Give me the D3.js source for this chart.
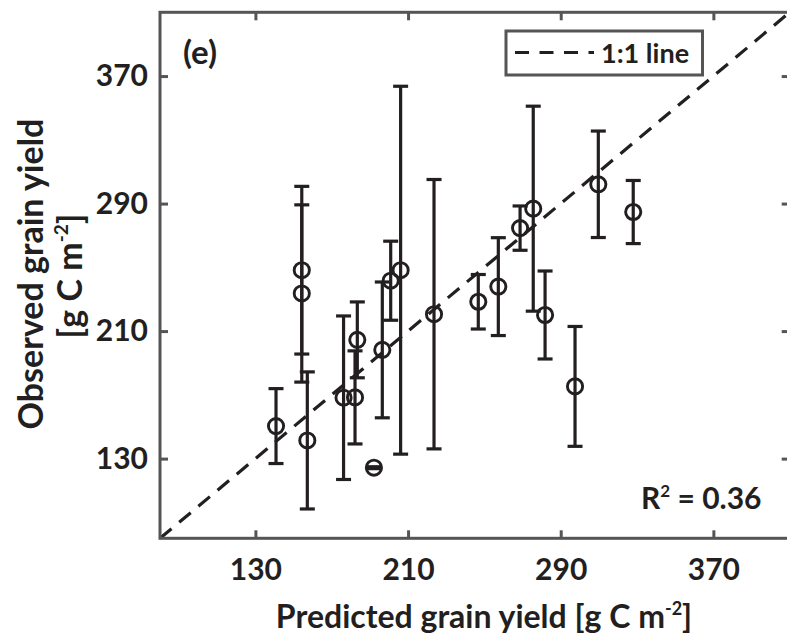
<!DOCTYPE html>
<html>
<head>
<meta charset="utf-8">
<script src="https://cdn.jsdelivr.net/npm/d3@7"></script>
<style>
  html, body { margin: 0; padding: 0; background: #fff; }
  svg { display: block; }
  text { font-family: Lato, "Open Sans", sans-serif; font-weight: bold; fill: #231f20; }
</style>
</head>
<body>
<svg id="chart" width="787" height="640"></svg>
<script>
// Predicted (x) and observed (y) grain yield, with half-width of the observed error bar
const predicted = [140.8, 154.3, 154.3, 157.2, 176.2, 182.2, 183.4, 196.5, 200.9, 206.1, 192.1, 223.6, 246.8, 257.3, 268.7, 275.6, 281.8, 297.5, 309.7, 328.0];
const observed  = [150.4, 248.2, 233.6, 141.4, 168.2, 168.4, 204.5, 198.2, 241.6, 248.2, 124.3, 220.6, 228.4, 237.9, 274.6, 286.8, 220.1, 175.3, 302.1, 284.7];
const errHalf   = [23.5, 52.6, 55.6, 43.0, 51.3, 29.2, 23.8, 42.6, 24.8, 115.4, 0.6, 84.5, 17.1, 30.7, 13.9, 64.3, 27.6, 37.6, 33.4, 19.8];
const xTicks = [130, 210, 290, 370];
const yTicks = [130, 210, 290, 370];
const axisDomain = [80, 410];
const r2Text = "0.36";

const svg = d3.select("#chart");
const L = 160, R = 789.7, T = 12.3, B = 538.3;
const x = d3.scaleLinear().domain(axisDomain).range([L, R]);
const y = d3.scaleLinear().domain(axisDomain).range([B, T]);
const ink = "#231f20", axisCol = "#555555";

// 1:1 line
svg.append("line")
  .attr("x1", x(axisDomain[0])).attr("y1", y(axisDomain[0]))
  .attr("x2", x(axisDomain[1])).attr("y2", y(axisDomain[1]))
  .attr("stroke", ink).attr("stroke-width", 3.2)
  .attr("stroke-dasharray", "15,10");

// Error bars
const data = predicted.map((p, i) => ({ x: p, y: observed[i], e: errHalf[i] }));
const cap = 7.5;
const g = svg.append("g");
data.forEach(d => {
  const cx = x(d.x), yt = y(d.y + d.e), yb = y(d.y - d.e);
  g.append("line").attr("x1", cx).attr("x2", cx).attr("y1", yt).attr("y2", yb)
    .attr("stroke", ink).attr("stroke-width", 3.2);
  [yt, yb].forEach(yy => g.append("line")
    .attr("x1", cx - cap).attr("x2", cx + cap).attr("y1", yy).attr("y2", yy)
    .attr("stroke", ink).attr("stroke-width", 3.2));
  g.append("circle").attr("cx", cx).attr("cy", y(d.y)).attr("r", 7.6)
    .attr("fill", "none").attr("stroke", ink).attr("stroke-width", 2.9);
});

// Axes
const fs = 30;
const xAxis = svg.append("g").attr("transform", `translate(0,${B})`)
  .call(d3.axisBottom(x).tickValues(xTicks).tickSizeInner(-8).tickSizeOuter(0).tickPadding(20));
const yAxis = svg.append("g").attr("transform", `translate(${L},0)`)
  .call(d3.axisLeft(y).tickValues(yTicks).tickSizeInner(-8).tickSizeOuter(0).tickPadding(12));
const xTop = svg.append("g").attr("transform", `translate(0,${T})`)
  .call(d3.axisTop(x).tickValues(xTicks).tickSizeInner(-8).tickSizeOuter(0).tickFormat(""));
const yRight = svg.append("g").attr("transform", `translate(${R},0)`)
  .call(d3.axisRight(y).tickValues(yTicks).tickSizeInner(-8).tickSizeOuter(0).tickFormat(""));
[xAxis, yAxis, xTop, yRight].forEach(a => {
  a.select(".domain").remove();
  a.selectAll(".tick line").attr("stroke", axisCol).attr("stroke-width", 3);
  a.selectAll(".tick text").attr("font-size", fs).attr("font-family", "Lato, sans-serif")
    .attr("font-weight", "bold").attr("fill", ink);
});

// Box
svg.append("rect").attr("x", L).attr("y", T).attr("width", R - L).attr("height", B - T)
  .attr("fill", "none").attr("stroke", axisCol).attr("stroke-width", 3);

// Panel label
svg.append("text").attr("x", 183).attr("y", 64).attr("font-size", 33).text("(e)");

// Legend
const lg = svg.append("g");
lg.append("rect").attr("x", 506).attr("y", 31).attr("width", 196.5).attr("height", 44)
  .attr("fill", "#fff").attr("stroke", axisCol).attr("stroke-width", 3);
lg.append("line").attr("x1", 515).attr("x2", 594).attr("y1", 52.5).attr("y2", 52.5)
  .attr("stroke", ink).attr("stroke-width", 3.2).attr("stroke-dasharray", "14,10.5");
lg.append("text").attr("x", 601).attr("y", 63).attr("font-size", 27).text("1:1 line");

// R^2
const r2 = svg.append("text").attr("x", 641).attr("y", 509).attr("font-size", 30);
r2.append("tspan").text("R");
r2.append("tspan").attr("font-size", 17).attr("dy", -12).text("2");
r2.append("tspan").attr("dy", 12).text(" = " + r2Text);

// X title
const xt = svg.append("text").attr("x", 484).attr("y", 628).attr("text-anchor", "middle").attr("font-size", 32);
xt.append("tspan").text("Predicted grain yield [g C m");
xt.append("tspan").attr("font-size", 18).attr("dy", -13).text("-2");
xt.append("tspan").attr("dy", 13).text("]");

// Y title
const yt1 = svg.append("text").attr("transform", "translate(43,274) rotate(-90)")
  .attr("text-anchor", "middle").attr("font-size", 34).text("Observed grain yield");
const yt2 = svg.append("text").attr("transform", "translate(82,276) rotate(-90)")
  .attr("text-anchor", "middle").attr("font-size", 34);
yt2.append("tspan").text("[g C m");
yt2.append("tspan").attr("font-size", 19).attr("dy", -14).text("-2");
yt2.append("tspan").attr("dy", 14).text("]");
</script>
</body>
</html>
